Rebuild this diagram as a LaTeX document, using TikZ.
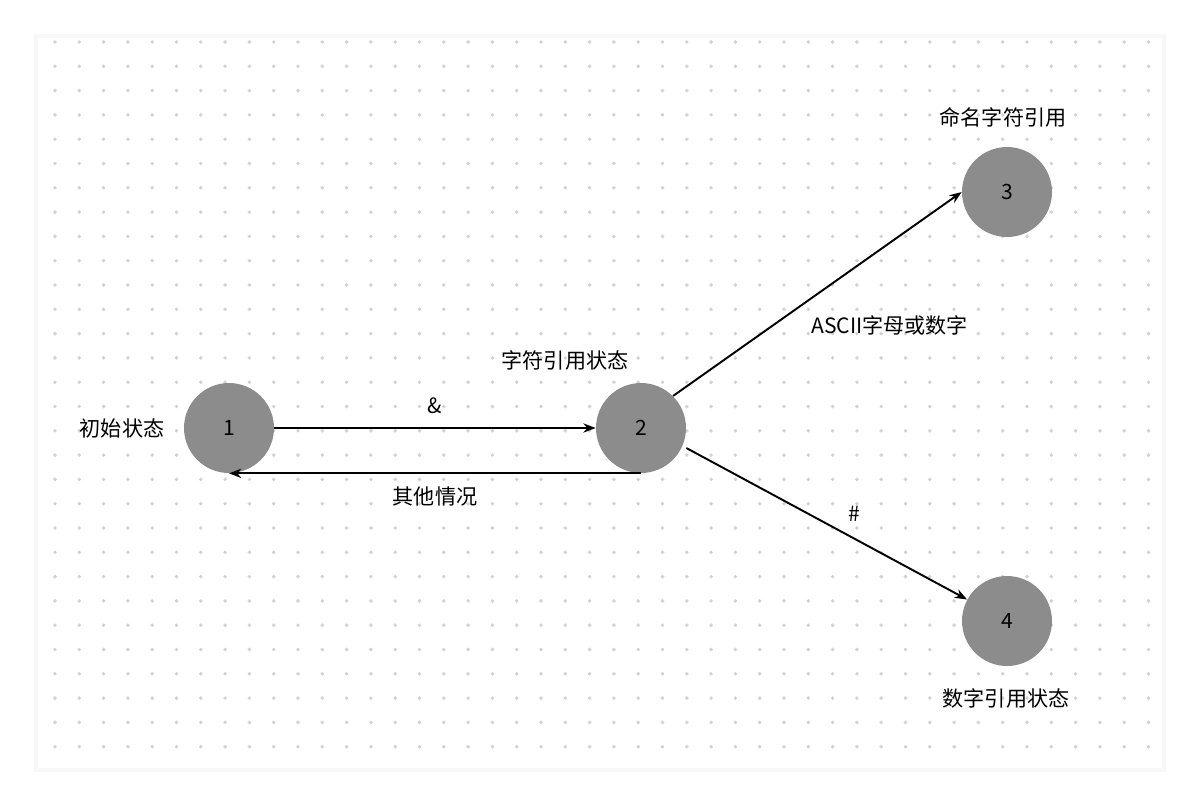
\documentclass[tikz,border=0pt]{standalone}
\usepackage{fontspec}
\setmainfont{Noto Sans CJK SC}
\usetikzlibrary{arrows.meta, positioning}
\definecolor{stategray}{HTML}{8C8C8C}
\definecolor{dotgray}{HTML}{D2D2D2}

\begin{document}
\begin{tikzpicture}[
      x=0.02cm, y=-0.02cm,
      state/.style={circle, fill=stategray, minimum size=1.8cm, inner sep=0pt, font=\large},
      edge/.style={line width=1.1pt, -{Stealth[length=7pt]}},
      lbl/.style={font=\large}
    ]

    % Background and card
    \useasboundingbox (0,0) rectangle (1200,806);
    \fill[white] (0,0) rectangle (1200,806);
    \fill[black!3] (34,34) rectangle (1166,772);
    \fill[white] (38,38) rectangle (1162,768);
    \foreach \i in {0,...,45} {
      \foreach \j in {0,...,29} {
        \fill[dotgray] (55+24.3*\i, 42+24.3*\j) circle (1.1pt);
      }
    }

    % States
    \node[state] (s1) at (229,428) {1};
    \node[state] (s2) at (641,428) {2};
    \node[state] (s3) at (1007,192) {3};
    \node[state] (s4) at (1007,621) {4};

    \node[lbl] (init) at (122,428) {初始状态};
    \node[lbl] (charref) at (565,360) {字符引用状态};
    \node[lbl] (named) at (1003,117) {命名字符引用};
    \node[lbl] (numeric) at (1006,698) {数字引用状态};

    % Transitions
    \draw[edge] (s1) -- node[lbl, above=4pt] {\&} (s2);
    \draw[edge] (s2.south) -- node[lbl, below=4pt] {其他情况} (s1.south);
    \draw[edge] (s2.north east) -- node[lbl, pos=0.75, yshift=-1.64cm] {ASCII字母或数字} (s3.west);
    \draw[edge] ([yshift=-0.4cm]s2.east) -- node[lbl, pos=0.6, above=6pt] {\#} (s4);

  \end{tikzpicture}
\end{document}
